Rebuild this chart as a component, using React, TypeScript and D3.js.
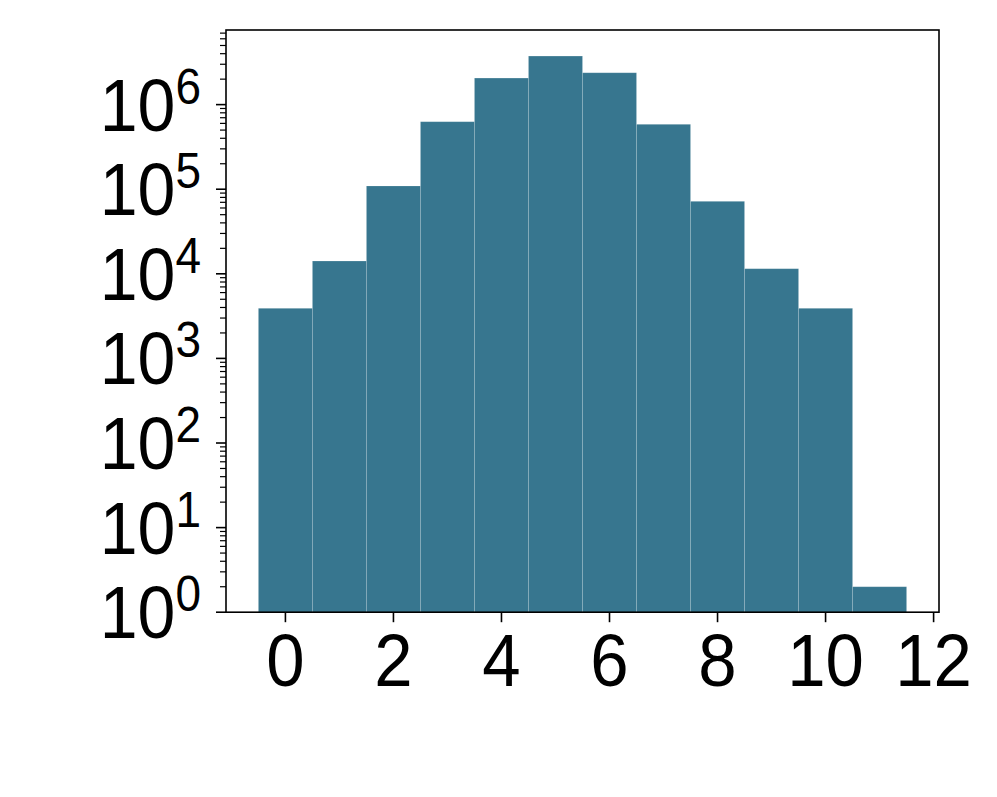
import React from "react";
import * as d3 from "d3";

const binCenters = [0, 1, 2, 3, 4, 5, 6, 7, 8, 9, 10, 11];
const counts = [3910, 14160, 109100, 628000, 2060000, 3750000, 2380000, 585000, 71900, 11490, 3910, 2];
const xTicks = [0, 2, 4, 6, 8, 10, 12];
const yExponents = [0, 1, 2, 3, 4, 5, 6];

const W = 997;
const H = 797;
const left = 226;
const right = 939;
const top = 30;
const bottom = 612.2;
const FONT = "'Liberation Sans', Arial, sans-serif";
const SX = 0.92;

export default function App() {
  const x = d3.scaleLinear().domain([-1.1, 12.1]).range([left, right]);
  const y = d3.scaleLog().domain([1, Math.pow(10, 6.882)]).range([bottom, top]);

  const minor: number[] = [];
  for (let e = 0; e <= 7; e++) {
    for (let m = 2; m <= 9; m++) {
      const v = m * Math.pow(10, e);
      if (v <= y.domain()[1]) minor.push(v);
    }
  }

  return (
    <svg width={W} height={H} style={{ position: "absolute", left: 0, top: 0, background: "#fff" }}>
      <rect x={0} y={0} width={W} height={H} fill="#fff" />
      {binCenters.map((c, i) => (
        <rect
          key={i}
          x={x(c - 0.5)}
          y={y(counts[i])}
          width={x(c + 0.5) - x(c - 0.5)}
          height={bottom - y(counts[i])}
          fill="#37768f"
          stroke="rgba(255,255,255,0.18)"
          strokeWidth={0.8}
        />
      ))}
      <rect x={left} y={top} width={right - left} height={bottom - top} fill="none" stroke="#000" strokeWidth={1.6} />
      {minor.map((v, i) => (
        <line key={"m" + i} x1={left - 6} x2={left} y1={y(v)} y2={y(v)} stroke="#000" strokeWidth={1.2} />
      ))}
      {yExponents.map((e) => {
        const yy = y(Math.pow(10, e));
        return (
          <g key={"y" + e}>
            <line x1={left - 10} x2={left} y1={yy} y2={yy} stroke="#000" strokeWidth={1.6} />
            <g transform={`translate(${left - 25},${yy + 26}) scale(${SX},1)`}>
              <text x={0} y={0} textAnchor="end" fontFamily={FONT} fontSize={74} fill="#000">
                10
                <tspan dy={-27} fontSize={50}>{e}</tspan>
              </text>
            </g>
          </g>
        );
      })}
      {xTicks.map((t) => (
        <g key={"x" + t}>
          <line x1={x(t)} x2={x(t)} y1={bottom} y2={bottom + 10} stroke="#000" strokeWidth={1.6} />
          <g transform={`translate(${x(t)},686) scale(${SX},1)`}>
            <text x={0} y={0} textAnchor="middle" fontFamily={FONT} fontSize={75} fill="#000">
              {t}
            </text>
          </g>
        </g>
      ))}
    </svg>
  );
}
